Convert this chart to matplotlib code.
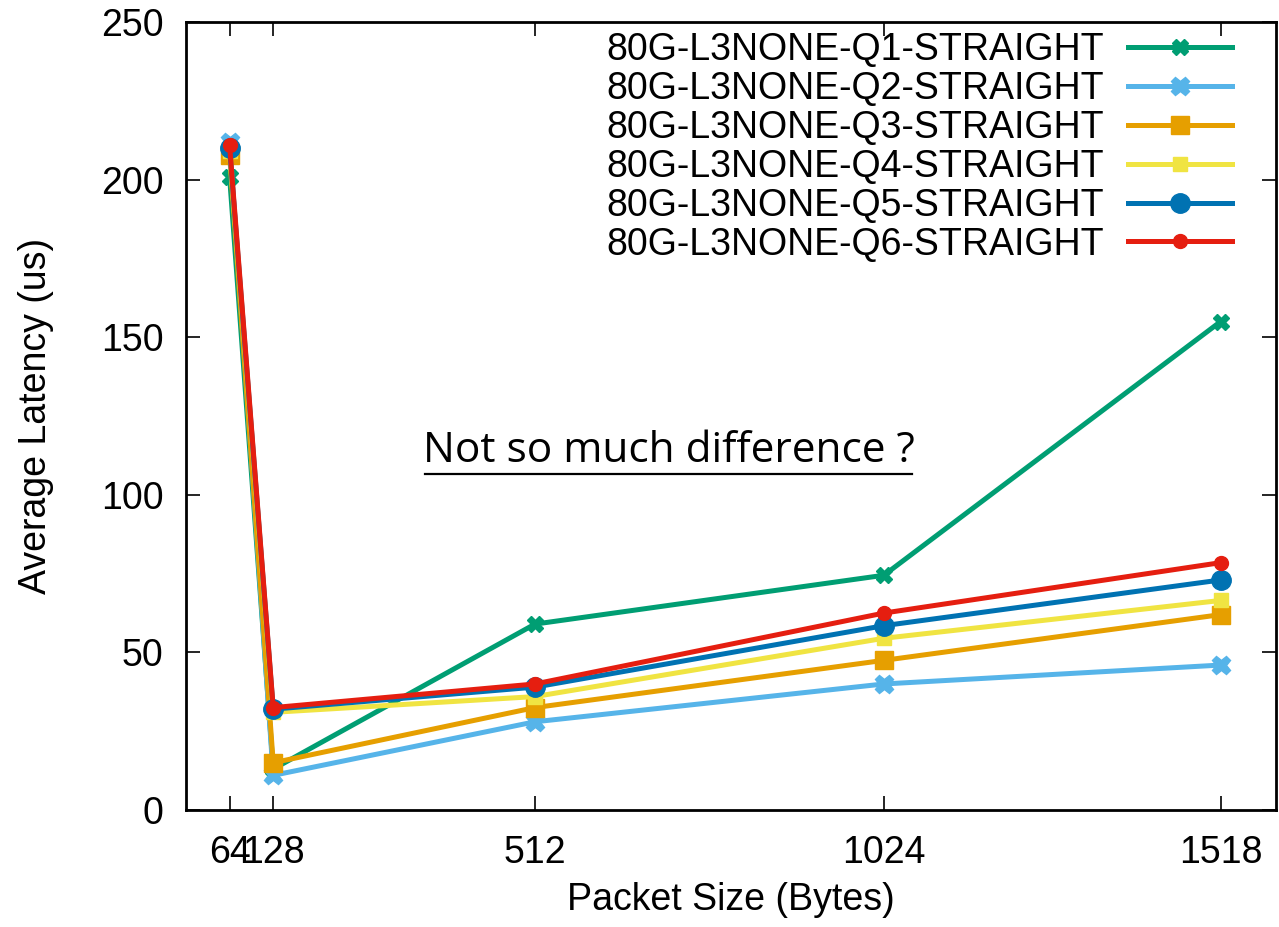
#!/usr/bin/env python3
"""Average latency vs packet size for the 80G-L3NONE straight queues."""

import matplotlib
matplotlib.use('Agg')
import matplotlib.pyplot as plt
from matplotlib.lines import Line2D

# Data.
packet_sizes = [64, 128, 512, 1024, 1518]
q1 = [201, 13, 59, 74.5, 155]
q2 = [212, 11, 28, 40, 46]
q3 = [208, 15, 32.5, 47.5, 62]
q4 = [209, 31, 36, 54.5, 66.5]
q5 = [210, 32, 39, 58.5, 73]
q6 = [211, 32.5, 40, 62.5, 78.5]
labels = ['80G-L3NONE-Q%d-STRAIGHT' % k for k in range(1, 7)]
yticks = [0, 50, 100, 150, 200, 250]

plt.rcParams['font.family'] = ['Liberation Sans', 'DejaVu Sans']

fig = plt.figure(figsize=(12.79, 9.27), dpi=100)
ax = fig.add_axes([0.1454, 0.1262, 0.8526, 0.8498])

styles = [
    dict(color='#009e73', marker='X', ms=12),
    dict(color='#56b4e9', marker='X', ms=13),
    dict(color='#e69f00', marker='s', ms=13),
    dict(color='#f0e442', marker='s', ms=10),
    dict(color='#0072b2', marker='o', ms=14),
    dict(color='#e51e10', marker='o', ms=10),
]
series = [q1, q2, q3, q4, q5, q6]
for vals, lab, st in zip(series, labels, styles):
    ax.plot(packet_sizes, vals, lw=3.6, label=lab, **st)

ax.set_xlim(0, 1600)
ax.set_ylim(0, 250)
ax.set_xticks(packet_sizes)
ax.set_xticklabels([str(v) for v in packet_sizes])
ax.set_yticks(yticks)
ax.tick_params(axis='both', which='both', direction='in', top=True,
               right=True, length=10, width=1.2, labelsize=27)
ax.tick_params(axis='y', pad=16)
ax.tick_params(axis='x', pad=18)
for sp in ax.spines.values():
    sp.set_linewidth(2)
ax.set_xlabel('Packet Size (Bytes)', fontsize=27, labelpad=8)
ax.set_ylabel('Average Latency (us)', fontsize=27, labelpad=34)

ax.legend(loc='upper right', frameon=False, markerfirst=False,
          numpoints=1, fontsize=27, handlelength=2.75, labelspacing=0.075,
          handletextpad=0.65, borderaxespad=0, borderpad=0,
          bbox_to_anchor=(0.9588, 0.987))

note = ax.text(708, 114, 'Not so much difference ?', fontsize=30.5,
               family='Open Sans', ha='center', va='center')
fig.canvas.draw()
bb = note.get_window_extent()
y0 = bb.y0 - 2
line = Line2D([bb.x0 + 2, bb.x1 - 2], [y0, y0], color='black', lw=1.6,
              transform=None)
fig.add_artist(line)

fig.savefig('out.png', dpi=100)
